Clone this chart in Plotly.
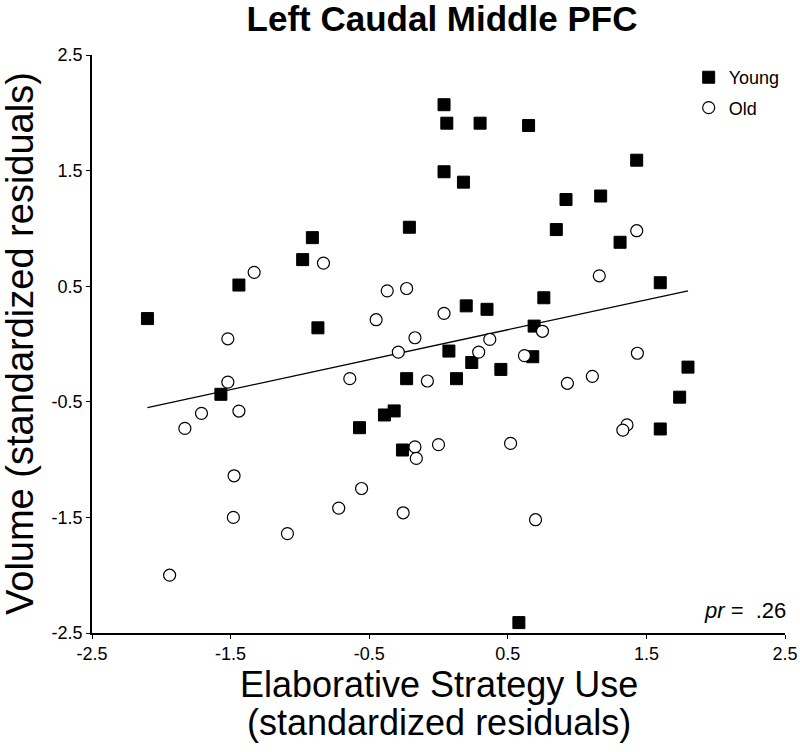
import plotly.graph_objects as go

# ---- data ----
young_x = [-2.10, -1.44, -0.98, -0.91, -0.87, 0.04, 0.06, 0.30, 0.65, 1.43,
           0.04, 0.18, 0.92, 1.17, -0.21, 0.85, 1.31, 1.60, 0.20, 0.35,
           0.76, 0.69, -1.57, -0.57, -0.39, -0.32, -0.26, 0.075, 0.68, 0.24,
           0.45, 1.80, -0.23, 0.13, 1.74, 1.60, 0.58]
young_y = [0.22, 0.51, 0.73, 0.92, 0.14, 2.07, 1.91, 1.91, 1.89, 1.59,
           1.49, 1.40, 1.25, 1.28, 1.01, 0.99, 0.88, 0.53, 0.33, 0.30,
           0.40, 0.155, -0.435, -0.724, -0.614, -0.579, -0.917, -0.061, -0.11, -0.16,
           -0.22, -0.20, -0.30, -0.30, -0.46, -0.735, -2.41]

old_x = [-1.33, -0.83, -0.37, -0.45, -0.23, -1.52, 1.43, 1.16, 0.04, 0.75,
         -0.17, 0.37, -0.29, -0.64, -1.52, -1.71, -1.44, -1.83, -1.475, -0.555,
         -0.72, -1.48, -1.09, -1.94, -0.255, 0.29, 0.62, 1.435, -0.08, 0.93,
         1.11, 1.36, 1.33, -0.17, -0.16, 0.00, 0.52, 0.70]
old_y = [0.62, 0.70, 0.46, 0.21, 0.48, 0.045, 0.98, 0.59, 0.265, 0.11,
         0.054, 0.04, -0.07, -0.30, -0.33, -0.60, -0.58, -0.73, -1.14, -1.25,
         -1.42, -1.50, -1.64, -2.00, -1.46, -0.07, -0.10, -0.08, -0.32, -0.34,
         -0.28, -0.70, -0.745, -0.89, -0.99, -0.87, -0.86, -1.52]

fit_x = [-2.10, 1.80]
fit_y = [-0.55, 0.46]

tick_vals = [-2.5, -1.5, -0.5, 0.5, 1.5, 2.5]
tick_text = ["-2.5", "-1.5", "-0.5", "0.5", "1.5", "2.5"]

FONT = "Liberation Sans, Arial, Helvetica, sans-serif"

fig = go.Figure()

fig.add_trace(go.Scatter(
    x=fit_x, y=fit_y, mode="lines",
    line=dict(color="black", width=1.3),
    showlegend=False, hoverinfo="skip"))

fig.add_trace(go.Scatter(
    x=young_x, y=young_y, mode="markers", name="Young", legendgroup="young",
    marker=dict(symbol="square", size=12, color="black",
                line=dict(color="black", width=1))))

fig.add_trace(go.Scatter(
    x=old_x, y=old_y, mode="markers", name="Old", legendgroup="old",
    marker=dict(symbol="circle", size=12, color="white",
                line=dict(color="black", width=1.2))))

axis_common = dict(
    showgrid=False, zeroline=False, showline=True, linecolor="black",
    linewidth=1.5, ticks="outside", ticklen=4, tickwidth=1.2, tickcolor="black",
    tickfont=dict(family=FONT, size=18, color="black"),
    tickvals=tick_vals, ticktext=tick_text, mirror=False, automargin=False,
)

fig.update_layout(
    width=800, height=752,
    margin=dict(l=92, r=15, t=55, b=119, autoexpand=False),
    paper_bgcolor="white", plot_bgcolor="white",
    font=dict(family=FONT, color="black"),
    title=dict(text="<b>Left Caudal Middle PFC</b>", x=0.5525, xanchor="center",
               y=0.992, yanchor="top", pad=dict(t=0, b=0),
               font=dict(family=FONT, size=35, color="black")),
    xaxis=dict(range=[-2.5, 2.5], **axis_common),
    yaxis=dict(range=[-2.5, 2.5], **axis_common),
    legend=dict(x=0.861, y=0.993, xanchor="left", yanchor="top",
                traceorder="grouped", tracegroupgap=4,
                font=dict(family=FONT, size=18, color="black"),
                bgcolor="rgba(0,0,0,0)", itemwidth=30),
    annotations=[
        dict(text="Elaborative Strategy Use", xref="paper", yref="paper",
             x=0.5, y=0, yshift=-29, xanchor="center", yanchor="top", showarrow=False,
             font=dict(family=FONT, size=36, color="black")),
        dict(text="(standardized residuals)", xref="paper", yref="paper",
             x=0.5, y=0, yshift=-67, xanchor="center", yanchor="top", showarrow=False,
             font=dict(family=FONT, size=36, color="black")),
        dict(text="Volume (standardized residuals)", xref="paper", yref="paper",
             x=0, xshift=-72, y=0.5, xanchor="center", yanchor="middle", textangle=-90,
             showarrow=False, font=dict(family=FONT, size=38, color="black")),
        dict(text="<i>pr</i> =&nbsp; .26", xref="paper", yref="paper",
             x=1.0, xshift=3, y=0.014, xanchor="right", yanchor="bottom", showarrow=False,
             font=dict(family=FONT, size=22, color="black")),
    ],
)

fig.write_html("out.html", config={"displayModeBar": False},
               post_script="document.body.style.margin='0';")
